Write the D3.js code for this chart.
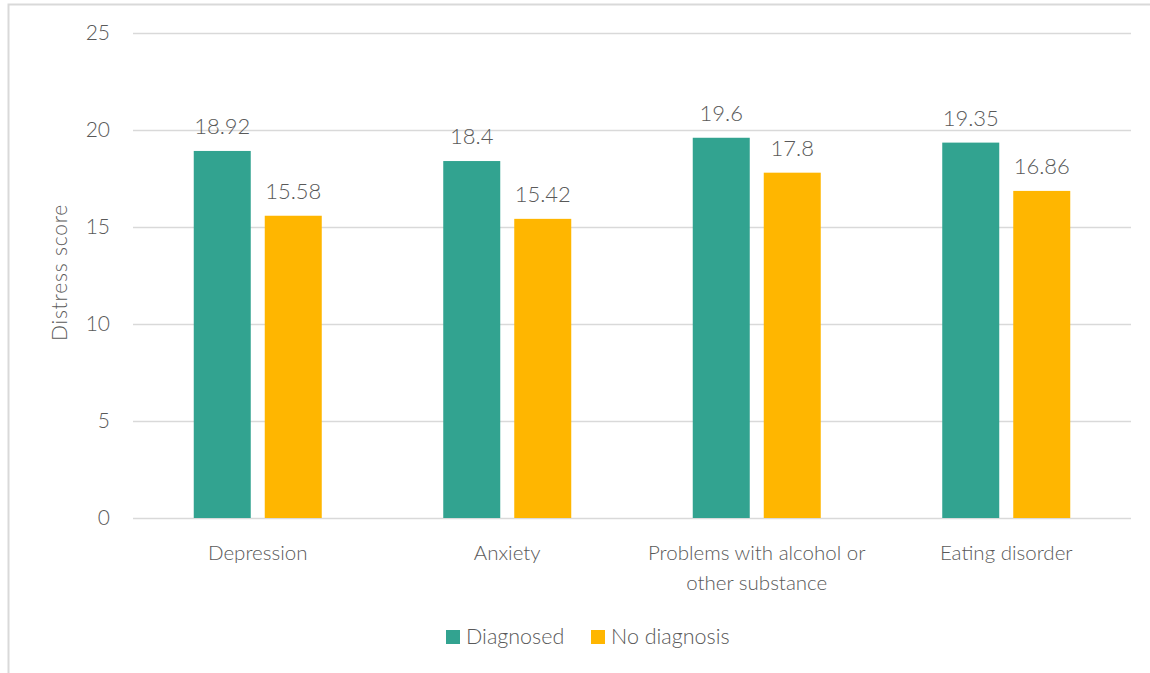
<!DOCTYPE html>
<html>
<head>
<meta charset="utf-8">
<script src="https://cdn.jsdelivr.net/npm/d3@7"></script>
<style>
  html, body { margin: 0; padding: 0; background: #fff; }
  svg text { font-family: "Lato", "Open Sans", sans-serif; font-weight: 300; fill: #595959; }
</style>
</head>
<body>
<svg id="chart" width="1150" height="673"></svg>
<script>
// Mean distress score by condition and diagnosis status
const categories = ["Depression", "Anxiety", "Problems with alcohol or other substance", "Eating disorder"];
const categoryLines = [["Depression"], ["Anxiety"], ["Problems with alcohol or", "other substance"], ["Eating disorder"]];
const seriesNames = ["Diagnosed", "No diagnosis"];
const diagnosed = [18.92, 18.4, 19.6, 19.35];
const noDiagnosis = [15.58, 15.42, 17.8, 16.86];
const yTicks = [0, 5, 10, 15, 20, 25];
const colors = ["#32A390", "#FFB600"];

const svg = d3.select("#chart");
const margin = { left: 133, right: 1131, top: 33, bottom: 518 };

// Chart frame
svg.append("path")
  .attr("d", "M8.5,673 L8.5,4.5 L1150,4.5")
  .attr("fill", "none").attr("stroke", "#d9d9d9").attr("stroke-width", 2);

const x0 = d3.scaleBand().domain(categories).range([margin.left, margin.right]).paddingInner(0).paddingOuter(0);
const y = d3.scaleLinear().domain([0, 25]).range([margin.bottom, margin.top]);

const bw = 57, gap = 14;
const x1 = d3.scaleBand().domain(seriesNames).range([0, 2 * bw + gap]).paddingInner(gap / (bw + gap));

// Gridlines and y tick labels
const yAxis = d3.axisLeft(y).tickValues(yTicks).tickSize(-(margin.right - margin.left)).tickPadding(23);
const gy = svg.append("g").attr("transform", `translate(${margin.left},0)`).call(yAxis);
gy.select(".domain").remove();
gy.selectAll(".tick line").attr("stroke", "#d9d9d9").attr("stroke-width", 1.5);
gy.selectAll(".tick text").attr("font-size", 21).style("fill", "#595959");

// Bars
const rows = categories.map((c, i) => ({ cat: c, vals: [diagnosed[i], noDiagnosis[i]] }));
const groups = svg.append("g").selectAll("g").data(rows).join("g")
  .attr("transform", d => `translate(${x0(d.cat) + x0.bandwidth() / 2 - (2 * bw + gap) / 2},0)`);

groups.selectAll("rect").data(d => d.vals.map((v, j) => ({ v, s: seriesNames[j], j })))
  .join("rect")
  .attr("x", d => x1(d.s)).attr("width", x1.bandwidth())
  .attr("y", d => y(d.v)).attr("height", d => y(0) - y(d.v))
  .attr("fill", d => colors[d.j]);

groups.selectAll("text.val").data(d => d.vals.map((v, j) => ({ v, s: seriesNames[j] })))
  .join("text").attr("class", "val")
  .attr("x", d => x1(d.s) + x1.bandwidth() / 2)
  .attr("y", d => y(d.v) - 17)
  .attr("text-anchor", "middle").attr("font-size", 22)
  .text(d => d.v);

// Category labels
const cl = svg.append("g").selectAll("text").data(categories).join("text")
  .attr("x", d => x0(d) + x0.bandwidth() / 2)
  .attr("y", 560)
  .attr("text-anchor", "middle").attr("font-size", 20.5);
cl.selectAll("tspan").data((d, i) => categoryLines[i]).join("tspan")
  .attr("x", function () { return d3.select(this.parentNode).attr("x"); })
  .attr("dy", (d, i) => i === 0 ? 0 : 30)
  .text(d => d);

// Axis title
svg.append("text")
  .attr("transform", `translate(67,${(margin.top + margin.bottom) / 2 - 3}) rotate(-90)`)
  .attr("text-anchor", "middle").attr("font-size", 21).attr("letter-spacing", 0.8)
  .text("Distress score");

// Legend
const legend = svg.append("g");
const legendItems = [{ x: 446, name: seriesNames[0], c: colors[0] }, { x: 591, name: seriesNames[1], c: colors[1] }];
legendItems.forEach(it => {
  legend.append("rect").attr("x", it.x).attr("y", 630).attr("width", 14).attr("height", 14).attr("fill", it.c);
  legend.append("text").attr("x", it.x + 20).attr("y", 644).attr("font-size", 21.5).text(it.name);
});
</script>
</body>
</html>
